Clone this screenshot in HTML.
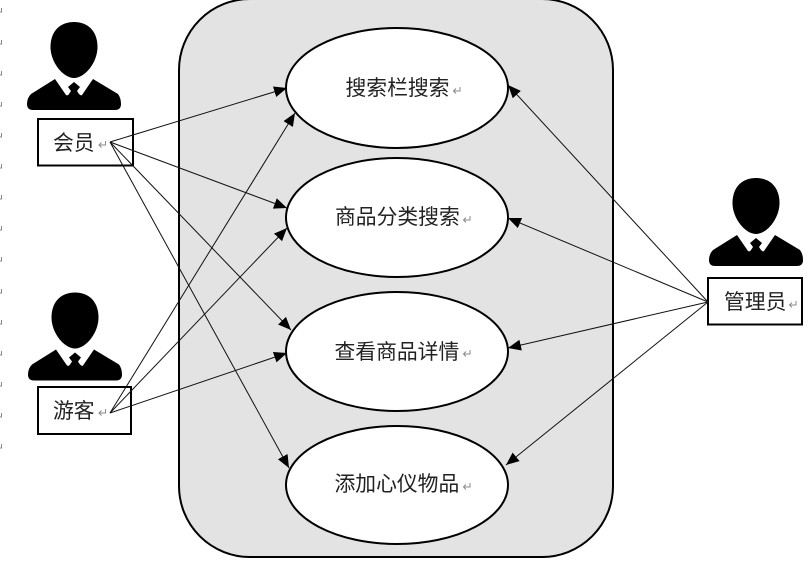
<!DOCTYPE html>
<html><head><meta charset="utf-8"><style>
html,body{margin:0;padding:0;background:#fff;width:810px;height:573px;overflow:hidden}
svg{display:block}
text{font-family:"Liberation Sans","Noto Sans CJK SC",sans-serif;font-size:20.8px;fill:#222}
line{stroke:#111;stroke-width:1}
</style></head><body>
<svg width="810" height="573" viewBox="0 0 810 573" xmlns="http://www.w3.org/2000/svg">
<defs>
<marker id="a" markerUnits="userSpaceOnUse" markerWidth="14" markerHeight="12" refX="13" refY="5.5" orient="auto"><path d="M0 0L13 5.500L0 11Z" fill="#000"/></marker>
<g id="p">
<path d="M74 22C87 22 97 30 97.500 46C98 62 85 78 74 78C63 78 50 62 50.500 46C51 30 61 22 74 22Z" fill="#000"/>
<path d="M55 79L66 95Q68 96 69 94L71 91L68 87L74 82L80 87L77 91L79 94Q81 96 82 95L93 79L118 94Q121 98 121 104Q121 110 115 110L33 110Q27 110 27 104Q27 98 31 94Z" fill="#000"/>
</g>
<path id="r" d="M7 0V4H0.500M3 1.500L0.500 4L3 6.500" fill="none" stroke="#8a8a8a" stroke-width="1"/>
</defs>
<rect x="179" y="-1" width="434" height="558" rx="71" ry="71" fill="#e3e3e3" stroke="#000" stroke-width="2"/>
<ellipse cx="397" cy="88" rx="111" ry="60" fill="#fff" stroke="#000" stroke-width="2"/>
<ellipse cx="397" cy="217.500" rx="111" ry="59.500" fill="#fff" stroke="#000" stroke-width="2"/>
<ellipse cx="397" cy="351.500" rx="111" ry="59.500" fill="#fff" stroke="#000" stroke-width="2"/>
<ellipse cx="397" cy="485" rx="111" ry="59" fill="#fff" stroke="#000" stroke-width="2"/>
<use href="#p"/>
<use href="#p" x="1" y="270.500"/>
<use href="#p" x="682" y="156"/>
<rect x="38" y="119" width="95" height="46.500" fill="#fff" stroke="#000" stroke-width="2"/>
<rect x="38" y="387" width="93" height="47" fill="#fff" stroke="#000" stroke-width="2"/>
<rect x="708" y="278" width="94" height="46.500" fill="#fff" stroke="#000" stroke-width="2"/>
<text x="53" y="150">会员</text><use href="#r" x="98.500" y="141"/>
<text x="53" y="418">游客</text><use href="#r" x="98.500" y="409"/>
<text x="724" y="309">管理员</text><use href="#r" x="789" y="301"/>
<text x="345.500" y="95">搜索栏搜索</text><use href="#r" x="453" y="87"/>
<text x="335" y="224">商品分类搜索</text><use href="#r" x="463" y="216"/>
<text x="334.500" y="359">查看商品详情</text><use href="#r" x="463" y="350"/>
<text x="334.500" y="491">添加心仪物品</text><use href="#r" x="463" y="483"/>
<line x1="110" y1="142" x2="287" y2="88" marker-end="url(#a)"/>
<line x1="110" y1="142" x2="287" y2="208" marker-end="url(#a)"/>
<line x1="110" y1="142" x2="291" y2="330" marker-end="url(#a)"/>
<line x1="110" y1="142" x2="289" y2="468" marker-end="url(#a)"/>
<line x1="110" y1="413" x2="295" y2="113" marker-end="url(#a)"/>
<line x1="110" y1="413" x2="287" y2="228" marker-end="url(#a)"/>
<line x1="110" y1="413" x2="287" y2="353" marker-end="url(#a)"/>
<line x1="708" y1="302" x2="508" y2="85" marker-end="url(#a)"/>
<line x1="708" y1="302" x2="508" y2="218" marker-end="url(#a)"/>
<line x1="708" y1="302" x2="508" y2="348" marker-end="url(#a)"/>
<line x1="708" y1="302" x2="506" y2="465" marker-end="url(#a)"/>
<path d="M1.500 8v4H0M1.500 40v4H0M1.500 71v4H0M1.500 102v4H0M1.500 133v4H0M1.500 164v4H0M1.500 195v4H0M1.500 226v4H0M1.500 257v4H0M1.500 289v4H0M1.500 320v4H0M1.500 351v4H0M1.500 382v4H0M1.500 413v4H0M1.500 444v4H0" fill="none" stroke="#888" stroke-width="1"/>
</svg>
</body></html>
